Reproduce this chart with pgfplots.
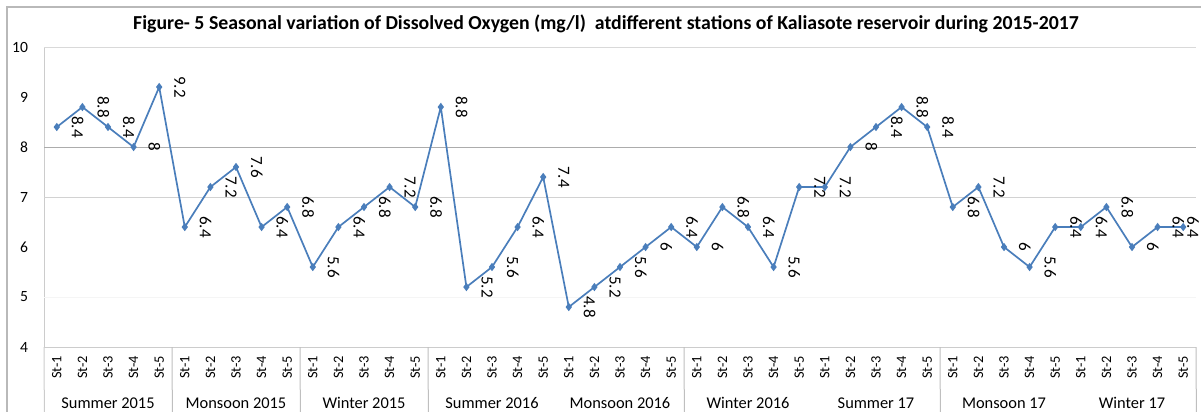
\documentclass[border=0pt]{standalone}
\usepackage{fontspec}
\setmainfont{Carlito}
\usepackage{pgfplots}
\pgfplotsset{compat=1.18}
\definecolor{serblue}{RGB}{74,126,187}
\pgfplotstableread{
x y
0 8.4
1 8.8
2 8.4
3 8
4 9.2
5 6.4
6 7.2
7 7.6
8 6.4
9 6.8
10 5.6
11 6.4
12 6.8
13 7.2
14 6.8
15 8.8
16 5.2
17 5.6
18 6.4
19 7.4
20 4.8
21 5.2
22 5.6
23 6
24 6.4
25 6
26 6.8
27 6.4
28 5.6
29 7.2
30 7.2
31 8
32 8.4
33 8.8
34 8.4
35 6.8
36 7.2
37 6
38 5.6
39 6.4
40 6.4
41 6.8
42 6
43 6.4
44 6.4
}\datatable
\begin{document}
\begin{tikzpicture}[x=1pt,y=1pt]
\useasboundingbox (0,0) rectangle (600.5,206);
\draw[gray!55, line width=0.6pt] (3.5,-10) rectangle (620,202.5);
\node[font=\fontsize{9.9}{12}\selectfont\bfseries] at (303,194.25) {Figure- 5 Seasonal variation of Dissolved Oxygen (mg/l)\ \ atdifferent stations of Kaliasote reservoir during 2015-2017};
\begin{axis}[
  at={(22pt,32.5pt)}, anchor=south west,
  scale only axis, width=576pt, height=150pt,
  xmin=-0.5, xmax=44.5, ymin=4, ymax=10,
  ytick={4,5,...,10},
  xtick={0,...,44},
  xticklabels={St-1,St-2,St-3,St-4,St-5,St-1,St-2,St-3,St-4,St-5,St-1,St-2,St-3,St-4,St-5,St-1,St-2,St-3,St-4,St-5,St-1,St-2,St-3,St-4,St-5,St-1,St-2,St-3,St-4,St-5,St-1,St-2,St-3,St-4,St-5,St-1,St-2,St-3,St-4,St-5,St-1,St-2,St-3,St-4,St-5},
  major tick length=0pt,
  axis lines*=left,
  axis line style={draw=gray!40, -},
  clip=false,
  /pgf/number format/assume math mode=true,
  yticklabel style={font=\fontsize{7.8}{9}\selectfont, anchor=east, inner sep=0pt, outer sep=8pt, text=black},
  xticklabel style={font=\fontsize{7.2}{8.4}\selectfont, rotate=90, anchor=east, inner sep=0pt, outer sep=4.5pt, text=black},
]
% grid lines
\draw[gray!30, line width=0.5pt] (axis cs:-0.5,10) -- (axis cs:44.5,10);
\draw[gray!65, line width=0.5pt] (axis cs:-0.5,8) -- (axis cs:44.5,8);
\draw[gray!35, line width=0.5pt] (axis cs:-0.5,7) -- (axis cs:44.5,7);
\draw[gray!8, line width=0.5pt] (axis cs:-0.5,5) -- (axis cs:44.5,5);
% category separators
\draw[gray!40, line width=0.5pt] (axis cs:-0.5,4) -- ++(0,-40);
\pgfplotsinvokeforeach{4.5,9.5,14.5,24.5,34.5,44.5}{
  \draw[gray!50, line width=0.5pt] (axis cs:#1,4) -- ++(0,-40);
}
\addplot[color=serblue, line width=0.85pt, mark=diamond*, mark size=1.4pt]
  table[x=x,y=y] {\datatable};
\addplot[draw=none, mark=none, restrict expr to domain={\coordindex}{0:43},
  nodes near coords,
  every node near coord/.append style={font=\fontsize{8.5}{10}\selectfont, rotate=-90, anchor=south, inner sep=0pt, outer sep=7.5pt, text=black}
] table[x=x,y=y] {\datatable};
\addplot[draw=none, mark=none, restrict expr to domain={\coordindex}{44:44},
  nodes near coords,
  every node near coord/.append style={font=\fontsize{8.5}{10}\selectfont, rotate=-90, anchor=south, inner sep=0pt, outer sep=2pt, text=black}
] table[x=x,y=y] {\datatable};
\begin{scope}[every node/.style={font=\fontsize{8.2}{10}\selectfont, anchor=base, text=black}]
\node at ([yshift=-30.5pt]axis cs:2,4) {Summer 2015};
\node at ([yshift=-30.5pt]axis cs:7,4) {Monsoon 2015};
\node at ([yshift=-30.5pt]axis cs:12,4) {Winter 2015};
\node at ([yshift=-30.5pt]axis cs:17,4) {Summer 2016};
\node at ([yshift=-30.5pt]axis cs:22,4) {Monsoon 2016};
\node at ([yshift=-30.5pt]axis cs:27,4) {Winter 2016};
\node at ([yshift=-30.5pt]axis cs:32,4) {Summer 17};
\node at ([yshift=-30.5pt]axis cs:37,4) {Monsoon 17};
\node at ([yshift=-30.5pt]axis cs:42,4) {Winter 17};
\end{scope}
\end{axis}
\end{tikzpicture}
\end{document}
